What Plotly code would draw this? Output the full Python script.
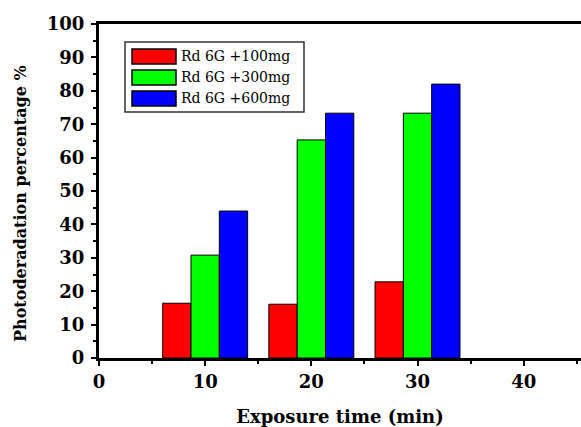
import plotly.graph_objects as go

times = [10, 20, 30]
series_names = ["Rd 6G +100mg", "Rd 6G +300mg", "Rd 6G +600mg"]
vals_100 = [16.4, 16.1, 22.8]
vals_300 = [30.8, 65.3, 73.3]
vals_600 = [44.0, 73.3, 82.0]
colors = ["#ff0000", "#00ff00", "#0000ff"]
x_title = "Exposure time (min)"
y_title = "Photoderadation percentage %"

serif = "DejaVu Serif, serif"

# plot area in pixels (for placing the hand-drawn legend)
L, R, T, B = 99, 581, 24, 358
def px(x):
    return (x - L) / (R - L)
def py(y):
    return (B - y) / (B - T)

fig = go.Figure()
for name, vals, c in zip(series_names, [vals_100, vals_300, vals_600], colors):
    fig.add_trace(go.Bar(x=times, y=vals, name=name,
                         marker=dict(color=c, line=dict(color="black", width=1))))

shapes = [dict(type="rect", xref="paper", yref="paper",
               x0=px(125), x1=px(304), y0=py(112), y1=py(42),
               line=dict(color="#333333", width=1.5), fillcolor="white", layer="above")]
annotations = []
row_tops = [49, 70, 91]
for name, c, top in zip(series_names, colors, row_tops):
    shapes.append(dict(type="rect", xref="paper", yref="paper",
                       x0=px(132), x1=px(176), y0=py(top + 15), y1=py(top),
                       line=dict(color="black", width=1.5), fillcolor=c, layer="above"))
    annotations.append(dict(xref="paper", yref="paper", x=px(179), y=py(top + 7.5),
                            xanchor="left", yanchor="middle", showarrow=False, text=name,
                            font=dict(family=serif, size=14, color="black")))

annotations.append(dict(xref="paper", yref="paper", x=px(20), y=py(204),
                        xanchor="center", yanchor="middle", showarrow=False, textangle=-90,
                        text=y_title, font=dict(family=serif, size=16, color="black", weight="bold")))

fig.update_layout(
    width=581, height=427,
    margin=dict(l=L, r=581 - R, t=T, b=427 - B),
    plot_bgcolor="white", paper_bgcolor="white",
    barmode="group", bargap=0.2, bargroupgap=0,
    font=dict(family=serif, color="black"),
    showlegend=False,
    shapes=shapes, annotations=annotations,
)
fig.update_xaxes(
    range=[0, 45.4], tickvals=[0, 10, 20, 30, 40],
    showline=True, linecolor="black", linewidth=3, mirror=True,
    ticks="outside", ticklen=5, tickwidth=2, tickcolor="black",
    minor=dict(tickvals=[5, 15, 25, 35, 45], ticks="outside", ticklen=3, tickwidth=2, tickcolor="black"),
    showgrid=False, zeroline=False,
    tickfont=dict(family=serif, size=18, color="black", weight="bold"),
    title=dict(text=x_title, font=dict(family=serif, size=18, color="black", weight="bold"), standoff=22),
)
fig.update_yaxes(
    range=[0, 100], tickvals=list(range(0, 101, 10)),
    showline=True, linecolor="black", linewidth=3, mirror=False,
    ticks="outside", ticklen=5, tickwidth=2, tickcolor="black",
    minor=dict(tickvals=list(range(5, 100, 10)), ticks="outside", ticklen=3, tickwidth=2, tickcolor="black"),
    showgrid=False, zeroline=False,
    ticklabelstandoff=3,
    tickfont=dict(family=serif, size=18, color="black", weight="bold"),
)
fig.write_html("out.html")
